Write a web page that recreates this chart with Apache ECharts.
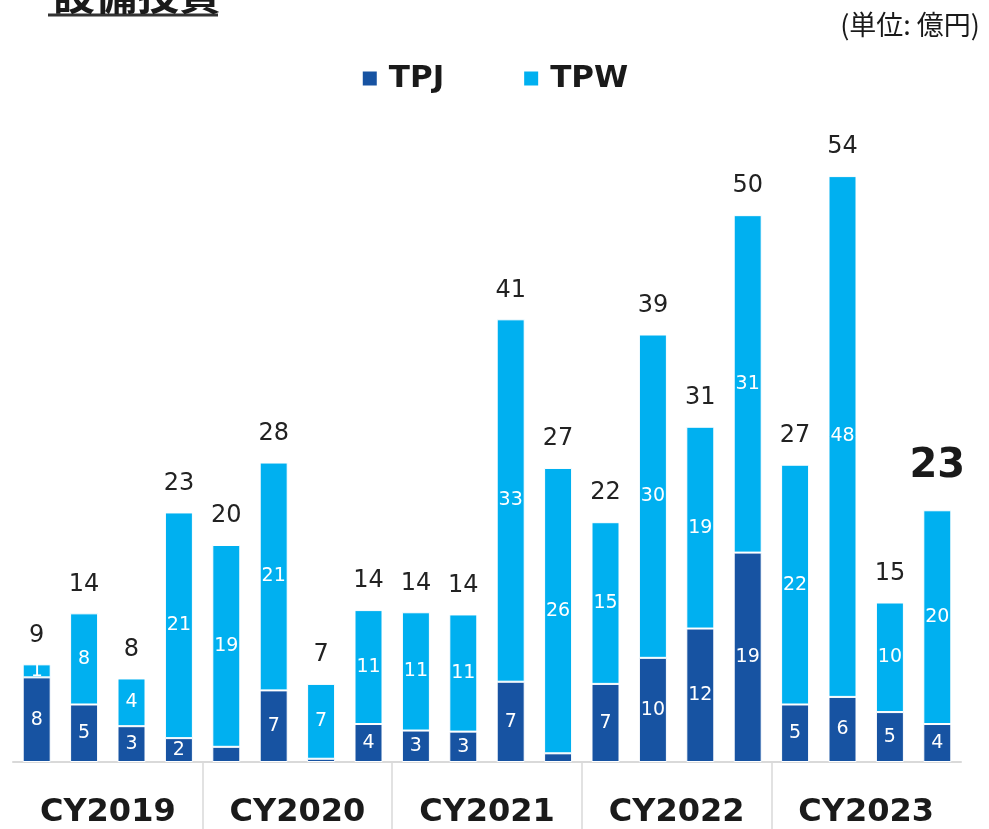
<!DOCTYPE html>
<html>
<head>
<meta charset="utf-8">
<script src="https://cdn.jsdelivr.net/npm/echarts@6/dist/echarts.min.js"></script>
<style>
  html, body { margin: 0; padding: 0; background: #fff; }
  #main { width: 989px; height: 829px; }
</style>
</head>
<body>
<div id="main"></div>
<script>
// quarters, CY2019 Q1 .. CY2023 Q4
var quarters = ['2019Q1','2019Q2','2019Q3','2019Q4','2020Q1','2020Q2','2020Q3','2020Q4',
                '2021Q1','2021Q2','2021Q3','2021Q4','2022Q1','2022Q2','2022Q3','2022Q4',
                '2023Q1','2023Q2','2023Q3','2023Q4'];
// last empty slot only pushes the end tick off the page
var years = ['CY2019','CY2020','CY2021','CY2022','CY2023',''];
// 億円
var tpj = [7.8, 5.3, 3.3, 2.2, 1.4, 6.6, 0.3, 3.5, 2.9, 2.8, 7.4, 0.8, 7.2, 9.6, 12.3, 19.3, 5.3, 6.0, 4.6, 3.5];
var tpw = [1.2, 8.4, 4.4, 20.8, 18.6, 21.0, 6.9, 10.5, 10.9, 10.8, 33.4, 26.3, 14.9, 29.8, 18.6, 31.1, 22.1, 48.0, 10.1, 19.7];
// TPJ segments that carry no label in the original
var tpjNoLabel = [4, 6, 11];

var totals = tpj.map(function (v, i) { return Math.round((v + tpw[i]) * 10) / 10; });
var last = totals.length - 1;

var numFont = '"DejaVu Sans", Verdana, sans-serif';
var cjkFont = '"Noto Sans CJK JP", sans-serif';

var plotLeft = 13, plotWidth = 948;

var myChart = echarts.init(document.getElementById('main'));

var option = {
    animation: false,
    title: [{
        text: '設備投資',
        left: 48,
        top: -32,
        textStyle: { fontFamily: cjkFont, fontSize: 42, fontWeight: 'bold', color: '#1a1a1a' }
    }, {
        text: '(単位: 億円)',
        right: 4,
        top: 6,
        textStyle: { fontFamily: cjkFont, fontSize: 27, fontWeight: 'normal', color: '#1a1a1a' }
    }],
    graphic: [{
        type: 'line',
        shape: { x1: 48, y1: 15, x2: 218, y2: 15 },
        style: { stroke: '#333', lineWidth: 3 }
    }],
    legend: {
        data: ['TPJ', 'TPW'],
        top: 58,
        left: 'center',
        icon: 'rect',
        itemWidth: 16,
        itemHeight: 16,
        itemGap: 78,
        textStyle: { fontFamily: numFont, fontSize: 31, fontWeight: 'bold', color: '#1a1a1a', padding: [0, 0, 0, 6] }
    },
    grid: [
        { left: plotLeft, width: plotWidth, top: 111, bottom: 67, outerBoundsMode: 'none' },
        { left: plotLeft, width: plotWidth * 6 / 5, top: 111, bottom: 67, outerBoundsMode: 'none' }
    ],
    xAxis: [{
        type: 'category',
        gridIndex: 0,
        data: quarters,
        position: 'bottom',
        axisLine: { lineStyle: { color: '#d9d9d9', width: 2 } },
        axisTick: { show: false },
        axisLabel: { show: false }
    }, {
        type: 'category',
        gridIndex: 1,
        data: years,
        position: 'bottom',
        axisLine: { show: false },
        axisTick: {
            show: true,
            interval: function (i) { return i > 0 && i < 5; },
            length: 67,
            lineStyle: { color: '#d9d9d9', width: 1.5 }
        },
        axisLabel: { fontFamily: numFont, fontSize: 32, fontWeight: 'bold', color: '#1a1a1a', margin: 35, interval: 0 }
    }],
    yAxis: [
        { type: 'value', gridIndex: 0, min: 0, max: 60, show: false, splitLine: { show: false } },
        { type: 'value', gridIndex: 1, min: 0, max: 60, show: false, splitLine: { show: false } }
    ],
    series: [{
        name: 'TPJ',
        type: 'bar',
        stack: 'total',
        barWidth: 28,
        data: tpj,
        itemStyle: { color: '#1753A2', borderColor: '#fff', borderWidth: 1 },
        label: {
            show: true,
            position: 'inside',
            color: '#fff',
            fontFamily: numFont,
            fontSize: 19,
            formatter: function (p) {
                return tpjNoLabel.indexOf(p.dataIndex) >= 0 ? '' : Math.round(p.value);
            }
        }
    }, {
        name: 'TPW',
        type: 'bar',
        stack: 'total',
        barWidth: 28,
        data: tpw,
        itemStyle: { color: '#00B0F0', borderColor: '#fff', borderWidth: 1 },
        label: {
            show: true,
            position: 'inside',
            color: '#fff',
            fontFamily: numFont,
            fontSize: 19,
            formatter: function (p) { return Math.round(p.value); }
        }
    }, {
        name: 'total',
        type: 'bar',
        barWidth: 28,
        barGap: '-100%',
        z: 1,
        data: totals.map(function (v, i) {
            return i === last
                ? { value: v, label: { fontSize: 40, fontWeight: 'bold', distance: 24, color: '#1a1a1a' } }
                : v;
        }),
        itemStyle: { color: 'rgba(0,0,0,0)' },
        label: {
            show: true,
            position: 'top',
            distance: 17,
            color: '#222',
            fontFamily: numFont,
            fontSize: 24,
            formatter: function (p) { return Math.round(p.value); }
        }
    }]
};

myChart.setOption(option);
</script>
</body>
</html>
